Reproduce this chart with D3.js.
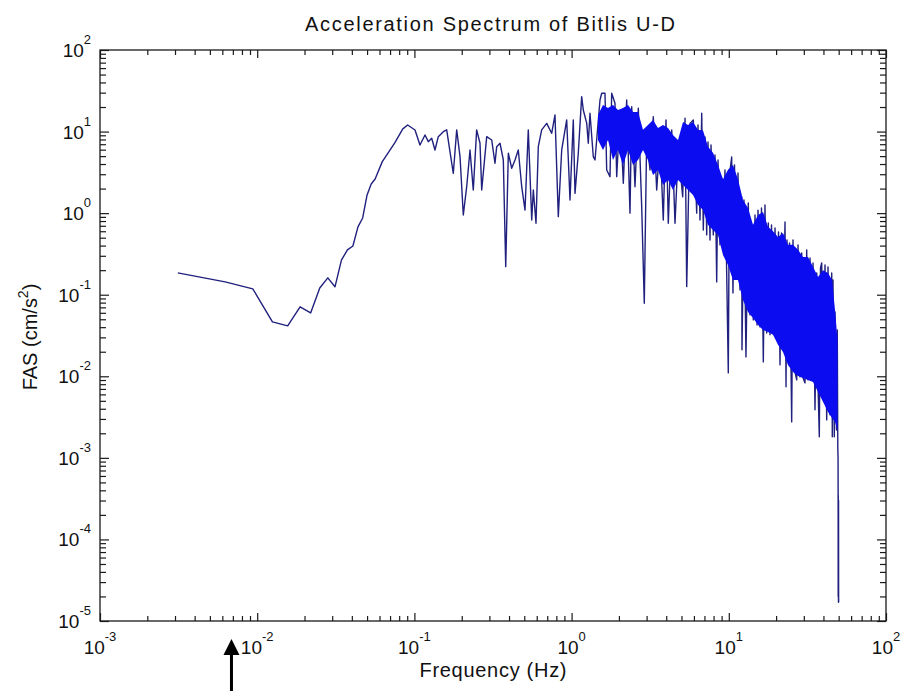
<!DOCTYPE html>
<html>
<head>
<meta charset="utf-8">
<script src="https://cdn.jsdelivr.net/npm/d3@7"></script>
<style>
  body { margin: 0; background: #ffffff; }
  text { font-family: "Liberation Sans", Arial, Helvetica, sans-serif; fill: #111; }
</style>
</head>
<body>
<svg id="chart" width="909" height="691"></svg>
<script>
// ---- labels and ticks ----
const chartTitle = "Acceleration Spectrum of Bitlis U-D";
const xTitle = "Frequency (Hz)";
const yTitleMain = "FAS (cm/s";
const yTitleSup = "2";
const xDecades = [-3, -2, -1, 0, 1, 2];
const yDecades = [-5, -4, -3, -2, -1, 0, 1, 2];

// ---- Fourier amplitude spectrum (Hz, cm/s^2) ----
// resolved low-frequency bins
const lowFreq = [0.003125, 0.00625, 0.009375, 0.0125, 0.015625, 0.01875, 0.021875, 0.025, 0.028125, 0.03125,
  0.034375, 0.0375, 0.040625, 0.04375, 0.046875, 0.05, 0.053125, 0.05625, 0.0625, 0.075, 0.084375, 0.090625];
const lowFas = [0.185, 0.1435, 0.118, 0.0464, 0.0415, 0.071, 0.0598, 0.121, 0.161, 0.125,
  0.267, 0.354, 0.396, 0.678, 0.873, 1.67, 2.28, 2.62, 4.28, 7.25, 10.8, 12.05];

// peaks and troughs, 0.1 - 6.3 Hz
const midFreq = [0.1009, 0.1085, 0.1168, 0.1226, 0.1288, 0.1352, 0.1419, 0.1527, 0.1605, 0.1684,
  0.1768, 0.1858, 0.1951, 0.2047, 0.2151, 0.2258, 0.2369, 0.2489, 0.2614, 0.268,
  0.2884, 0.3102, 0.3256, 0.3338, 0.3504, 0.3678, 0.381, 0.3958, 0.4159, 0.4365,
  0.458, 0.4816, 0.5053, 0.5303, 0.5576, 0.5708, 0.5936, 0.614, 0.6452, 0.6944,
  0.7469, 0.784, 0.823, 0.865, 0.9307, 0.9768, 1.025, 1.051, 1.103, 1.159,
  1.187, 1.248, 1.277, 1.309, 1.374, 1.409, 1.516, 1.554, 1.631, 1.672,
  1.755, 1.799, 1.888, 1.936, 2.032, 2.133, 2.241, 2.352, 2.412, 2.531,
  2.657, 2.792, 2.9, 3.004, 3.153, 3.309, 3.478, 3.65, 3.831, 3.986,
  4.122, 4.334, 4.548, 4.773, 5.09, 5.266, 5.398, 5.666, 5.946, 6.249];
const midFas = [10.46, 6.85, 9.08, 7.52, 8.28, 5.95, 8.66, 9.97, 10.5, 5.67,
  3.08, 10.5, 4.92, 0.95, 2.11, 5.95, 1.92, 10.5, 7.19, 1.92,
  8.66, 7.89, 4.09, 6.53, 7.19, 4.49, 0.221, 5.42, 3.55, 4.49,
  5.95, 2.11, 1.09, 10.5, 0.825, 1.92, 0.752, 6.53, 10.5, 12.6,
  9.53, 16.0, 0.906, 5.95, 13.9, 1.45, 13.9, 1.75, 5.42, 26.8,
  18.4, 12.6, 7.19, 16.8, 4.92, 4.49, 24.4, 29.5, 29.5, 3.38,
  2.8, 29.5, 22.2, 2.8, 16.8, 2.32, 24.4, 1.0, 20.2, 2.11,
  19.3, 1.2, 0.0787, 8.66, 3.38, 15.2, 1.92, 7.89, 0.825, 13.9,
  0.752, 10.5, 0.752, 5.95, 1.59, 14.6, 0.1257, 12.6, 13.9, 1.0];

// peaks and troughs, 6.3 - 50 Hz
const highFreq = [6.37, 6.559, 6.725, 6.885, 7.058, 7.236, 7.375, 7.594, 7.706, 7.97,
  8.17, 8.376, 8.538, 8.79, 9.012, 9.186, 9.458, 9.696, 9.927, 10.1,
  10.43, 10.63, 10.87, 11.23, 11.44, 11.78, 12.08, 12.13, 12.49, 12.86,
  13.3, 13.64, 13.98, 14.32, 14.68, 15.12, 15.34, 15.8, 16.14, 16.58,
  16.99, 17.42, 17.84, 18.29, 18.69, 19.19, 19.68, 20.26, 20.71, 21.17,
  21.64, 22.12, 22.78, 23.12, 23.46, 23.9, 24.33, 25.12, 25.61, 26.37,
  27.04, 27.56, 28.38, 29.09, 29.65, 30.53, 31.3, 31.9, 32.85, 33.68,
  34.33, 35.35, 36.25, 36.94, 37.65, 38.31, 38.99, 39.73, 40.93, 41.96,
  42.76, 44.04, 45.15, 45.54, 46.01, 46.9, 47.38, 48.43, 48.99, 49.36,
  49.55, 49.6, 49.65, 49.7, 49.75, 49.8, 49.85, 49.9, 49.95, 50.0];
const highFas = [12.05, 0.825, 16.8, 0.622, 8.59, 0.541, 7.46, 0.469, 6.85, 0.541,
  5.17, 0.1435, 4.49, 0.408, 2.7, 0.354, 3.38, 0.185, 0.011, 2.94,
  4.88, 0.1052, 3.9, 0.165, 3.11, 0.1145, 1.58, 0.0211, 1.45, 0.0173,
  1.33, 0.0566, 0.678, 0.0491, 0.95, 0.0426, 1.09, 0.0403, 1.16, 0.015,
  1.26, 0.034, 0.758, 0.0322, 0.717, 0.0331, 0.659, 0.0279, 0.588, 0.0138,
  0.572, 0.0211, 0.78, 0.00742, 0.469, 0.0183, 0.431, 0.00276, 0.469, 0.0113,
  0.00903, 0.408, 0.00983, 0.325, 0.0096, 0.0083, 0.354, 0.00903, 0.2825, 0.00903,
  0.2454, 0.00388, 0.185, 0.00785, 0.00181, 0.213, 0.2454, 0.00544, 0.232, 0.00292,
  0.219, 0.00337, 0.185, 0.00181, 0.152, 0.00181, 0.0615, 0.0022, 0.037, 0.00136,
  1.0e-3, 3.7e-4, 2.0e-5, 3.5e-4, 2.0e-5, 3.0e-4, 1.7e-5, 3.0e-4, 2.0e-5, 1.7e-5];

// dense core of the spectrum (upper / lower limits of the solid band)
const coreFreq = [1.472, 1.584, 1.704, 1.834, 1.973, 2.123, 2.285, 2.458, 2.645, 2.846,
  3.062, 3.295, 3.545, 3.815, 4.105, 4.416, 4.752, 5.114, 5.502, 5.92,
  6.37, 6.854, 7.375, 7.935, 8.538, 9.186, 9.883, 10.63, 11.44, 12.31,
  13.25, 14.26, 15.34, 16.51, 17.76, 19.11, 20.56, 22.12, 23.8, 25.61,
  27.56, 29.65, 31.9, 34.33, 36.94, 39.73, 42.76, 45.35, 47.38, 49.14];
const coreMax = [15.97, 21.2, 19.5, 21.2, 18.4, 19.46, 21.18, 17.4, 17.4, 10.5,
  12.05, 13.9, 11.07, 12.05, 11.07, 9.08, 7.89, 13.11, 12.05, 13.11,
  10.5, 10.3, 6.5, 5.5, 3.9, 2.6, 3.4, 3.9, 2.6, 1.45,
  1.16, 0.72, 0.95, 1.03, 0.68, 0.6, 0.51, 0.57, 0.41, 0.41,
  0.355, 0.29, 0.29, 0.22, 0.165, 0.2, 0.185, 0.152, 0.065, 0.028];
const coreMin = [7.89, 5.95, 7.89, 4.49, 5.95, 3.9, 5.95, 3.9, 4.49, 5.95,
  4.49, 2.94, 3.38, 2.22, 2.55, 1.92, 2.55, 2.22, 1.92, 1.67,
  1.26, 1.09, 0.717, 0.622, 0.541, 0.3074, 0.232, 0.152, 0.152, 0.0864,
  0.0615, 0.052, 0.0426, 0.037, 0.035, 0.0322, 0.0243, 0.0199, 0.0138, 0.0113,
  0.0101, 0.00956, 0.00903, 0.00854, 0.00644, 0.00486, 0.00366, 0.00309, 0.00276, 0.0022];

// annotation arrow under the frequency axis
const arrowFreq = 0.00686;

// ---- drawing ----
const W = 909, H = 691;
const plot = { left: 100, right: 886, top: 50, bottom: 621 };
const lineColor = "#20207e";
const coreColor = "#0c0cf0";
const axisColor = "#1a1a1a";

const svg = d3.select("#chart");
svg.append("rect").attr("width", W).attr("height", H).attr("fill", "#ffffff");

const x = d3.scaleLog().domain([1e-3, 1e2]).range([plot.left, plot.right]);
const y = d3.scaleLog().domain([1e-5, 1e2]).range([plot.bottom, plot.top]);

const pow10 = d => Math.pow(10, d);
const xMajor = xDecades.map(pow10);
const yMajor = yDecades.map(pow10);
const xMinor = [], yMinor = [];
xDecades.slice(0, -1).forEach(d => { for (let k = 2; k <= 9; k++) xMinor.push(k * pow10(d)); });
yDecades.slice(0, -1).forEach(d => { for (let k = 2; k <= 9; k++) yMinor.push(k * pow10(d)); });

svg.append("clipPath").attr("id", "plotClip").append("rect")
  .attr("x", plot.left).attr("y", plot.top)
  .attr("width", plot.right - plot.left).attr("height", plot.bottom - plot.top);
const plotG = svg.append("g").attr("clip-path", "url(#plotClip)");

// spectrum line
const series = d3.zip(lowFreq.concat(midFreq, highFreq), lowFas.concat(midFas, highFas));
plotG.append("path")
  .datum(series)
  .attr("fill", "none")
  .attr("stroke", lineColor)
  .attr("stroke-width", 1.4)
  .attr("stroke-linejoin", "round")
  .attr("d", d3.line().x(d => x(d[0])).y(d => y(d[1])));

// solid band where the bins are too dense to separate
const core = coreFreq.map((f, i) => ({ f, hi: coreMax[i], lo: coreMin[i] }));
plotG.append("path")
  .datum(core)
  .attr("fill", coreColor)
  .attr("stroke", "none")
  .attr("d", d3.area().x(d => x(d.f)).y0(d => y(d.lo)).y1(d => y(d.hi)));

// ticks on all four sides, pointing inward
function styleAxis(g) {
  g.select(".domain").remove();
  g.selectAll(".tick line").attr("stroke", axisColor).attr("stroke-width", 1.2);
}
const majorLen = 8, minorLen = 5;
[[d3.axisBottom, plot.bottom], [d3.axisTop, plot.top]].forEach(([ax, pos]) => {
  svg.append("g").attr("transform", `translate(0,${pos})`)
    .call(ax(x).tickValues(xMinor).tickSize(-minorLen).tickFormat("")).call(styleAxis);
  svg.append("g").attr("transform", `translate(0,${pos})`)
    .call(ax(x).tickValues(xMajor).tickSize(-majorLen).tickFormat("")).call(styleAxis);
});
[[d3.axisLeft, plot.left], [d3.axisRight, plot.right]].forEach(([ax, pos]) => {
  svg.append("g").attr("transform", `translate(${pos},0)`)
    .call(ax(y).tickValues(yMinor).tickSize(-minorLen - 1).tickFormat("")).call(styleAxis);
  svg.append("g").attr("transform", `translate(${pos},0)`)
    .call(ax(y).tickValues(yMajor).tickSize(-majorLen - 1).tickFormat("")).call(styleAxis);
});

// axes box
svg.append("rect")
  .attr("x", plot.left).attr("y", plot.top)
  .attr("width", plot.right - plot.left).attr("height", plot.bottom - plot.top)
  .attr("fill", "none").attr("stroke", axisColor).attr("stroke-width", 1.3);

// tick labels 10^n
svg.append("g").selectAll("text").data(xDecades).join("text")
  .attr("x", d => x(pow10(d)))
  .attr("y", 654)
  .attr("text-anchor", "middle")
  .attr("font-size", 19)
  .each(function (d) {
    const t = d3.select(this);
    t.append("tspan").text("10");
    t.append("tspan").attr("dy", -13).attr("font-size", 13).text(d);
  });

svg.append("g").selectAll("text").data(yDecades).join("text")
  .attr("x", 91)
  .attr("y", d => y(pow10(d)) + 7)
  .attr("text-anchor", "end")
  .attr("font-size", 19)
  .each(function (d) {
    const t = d3.select(this);
    t.append("tspan").text("10");
    t.append("tspan").attr("dy", -13).attr("font-size", 13).text(d);
  });

// titles
svg.append("text")
  .attr("x", 490).attr("y", 31)
  .attr("text-anchor", "middle")
  .attr("font-size", 20)
  .attr("textLength", 370).attr("lengthAdjust", "spacing")
  .text(chartTitle);

svg.append("text")
  .attr("x", 493).attr("y", 677)
  .attr("text-anchor", "middle")
  .attr("font-size", 20)
  .attr("textLength", 147).attr("lengthAdjust", "spacing")
  .text(xTitle);

const yt = svg.append("text")
  .attr("transform", "translate(37,337) rotate(-90)")
  .attr("text-anchor", "middle")
  .attr("font-size", 20);
yt.append("tspan").text(yTitleMain);
yt.append("tspan").attr("dy", -9).attr("font-size", 14).text(yTitleSup);
yt.append("tspan").attr("dy", 9).text(")");

// arrow
const ax0 = x(arrowFreq);
svg.append("path")
  .attr("d", `M${ax0},639 L${ax0 + 8},655 L${ax0 + 1.5},655 L${ax0 + 1.5},${H} L${ax0 - 1.5},${H} L${ax0 - 1.5},655 L${ax0 - 8},655 Z`)
  .attr("fill", "#000");
</script>
</body>
</html>
